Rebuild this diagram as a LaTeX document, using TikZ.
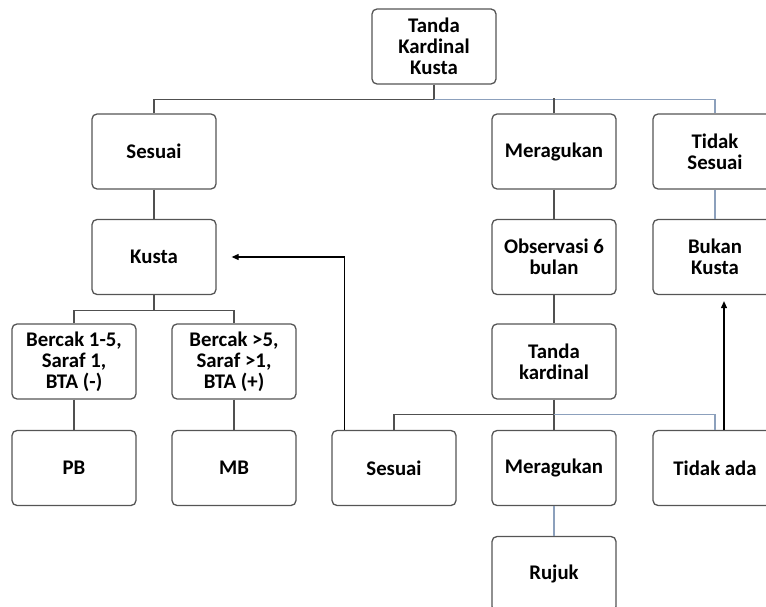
\documentclass[tikz,border=0pt]{standalone}
\usepackage{fontspec}
\setmainfont{Carlito}
\usetikzlibrary{arrows.meta}
\definecolor{boxline}{RGB}{85,85,85}
\definecolor{linkgray}{RGB}{80,80,80}
\definecolor{linkblue}{RGB}{140,160,188}

\begin{document}
\begin{tikzpicture}[x=1pt,y=-1pt,
    kotak/.style={draw=boxline, line width=1.3pt, rounded corners=5pt, minimum width=124pt, minimum height=75pt, inner sep=0pt, align=center, font=\fontsize{20.8}{21}\selectfont\bfseries},
    garis/.style={draw=linkgray, line width=1.2pt},
    garisbiru/.style={draw=linkblue, line width=1.2pt},
    panah/.style={draw=black, line width=1.1pt, -{Triangle[length=7pt,width=6pt]}}]
    \useasboundingbox (0,0) rectangle (766,607);

    %boxes
    \node[kotak] (tanda) at (434,46.5) {Tanda\\Kardinal\\Kusta};

    \node[kotak] (sesuai) at (154,151.5) {Sesuai};
    \node[kotak] (ragu) at (554,151.5) {Meragukan};
    \node[kotak] (tsesuai) at (715,151.5) {Tidak\\Sesuai};

    \node[kotak] (kusta) at (154,257) {Kusta};
    \node[kotak] (obs) at (554,257) {Observasi 6\\bulan};
    \node[kotak] (bukan) at (715,257) {Bukan\\Kusta};

    \node[kotak] (pbciri) at (74,361.5) {Bercak 1-5,\\Saraf 1,\\BTA (-)};
    \node[kotak] (mbciri) at (234,361.5) {Bercak >5,\\Saraf >1,\\BTA (+)};
    \node[kotak] (tanda2) at (554,361.5) {Tanda\\kardinal};

    \node[kotak] (pb) at (74,468) {PB};
    \node[kotak] (mb) at (234,468) {MB};
    \node[kotak] (sesuai2) at (394,468) {Sesuai};
    \node[kotak] (ragu2) at (554,468) {Meragukan};
    \node[kotak] (tidakada) at (715,468) {Tidak ada};

    \node[kotak] (rujuk) at (554,574) {Rujuk};

    %tree lines
    \draw[garis] (tanda.south) -- ++(0,15) -| (sesuai.north);
    \draw[garisbiru] (tanda.south) ++(0,15) -| (tsesuai.north);
    \draw[garis] (ragu.north) -- ++(0,-15);
    \draw[garis] (sesuai) -- (kusta);
    \draw[garis] (ragu) -- (obs);
    \draw[garisbiru] (tsesuai) -- (bukan);

    \draw[garis] (kusta.south) -- ++(0,15) -| (pbciri.north);
    \draw[garis] (kusta.south) ++(0,15) -| (mbciri.north);
    \draw[garis] (obs) -- (tanda2);
    \draw[garis] (pbciri) -- (pb);
    \draw[garis] (mbciri) -- (mb);

    \draw[garis] (tanda2.south) -- ++(0,15) -| (sesuai2.north);
    \draw[garisbiru] (tanda2.south) ++(0,15) -| (tidakada.north);
    \draw[garis] (ragu2.north) -- ++(0,-15);
    \draw[garisbiru] (ragu2) -- (rujuk);

    %arrows
    \draw[panah] ([xshift=13pt]sesuai2.north west) |- ([xshift=15pt]kusta.east);
    \draw[panah] ([xshift=9pt]tidakada.north) -- ([xshift=9pt,yshift=-6pt]bukan.south);
\end{tikzpicture}
\end{document}
